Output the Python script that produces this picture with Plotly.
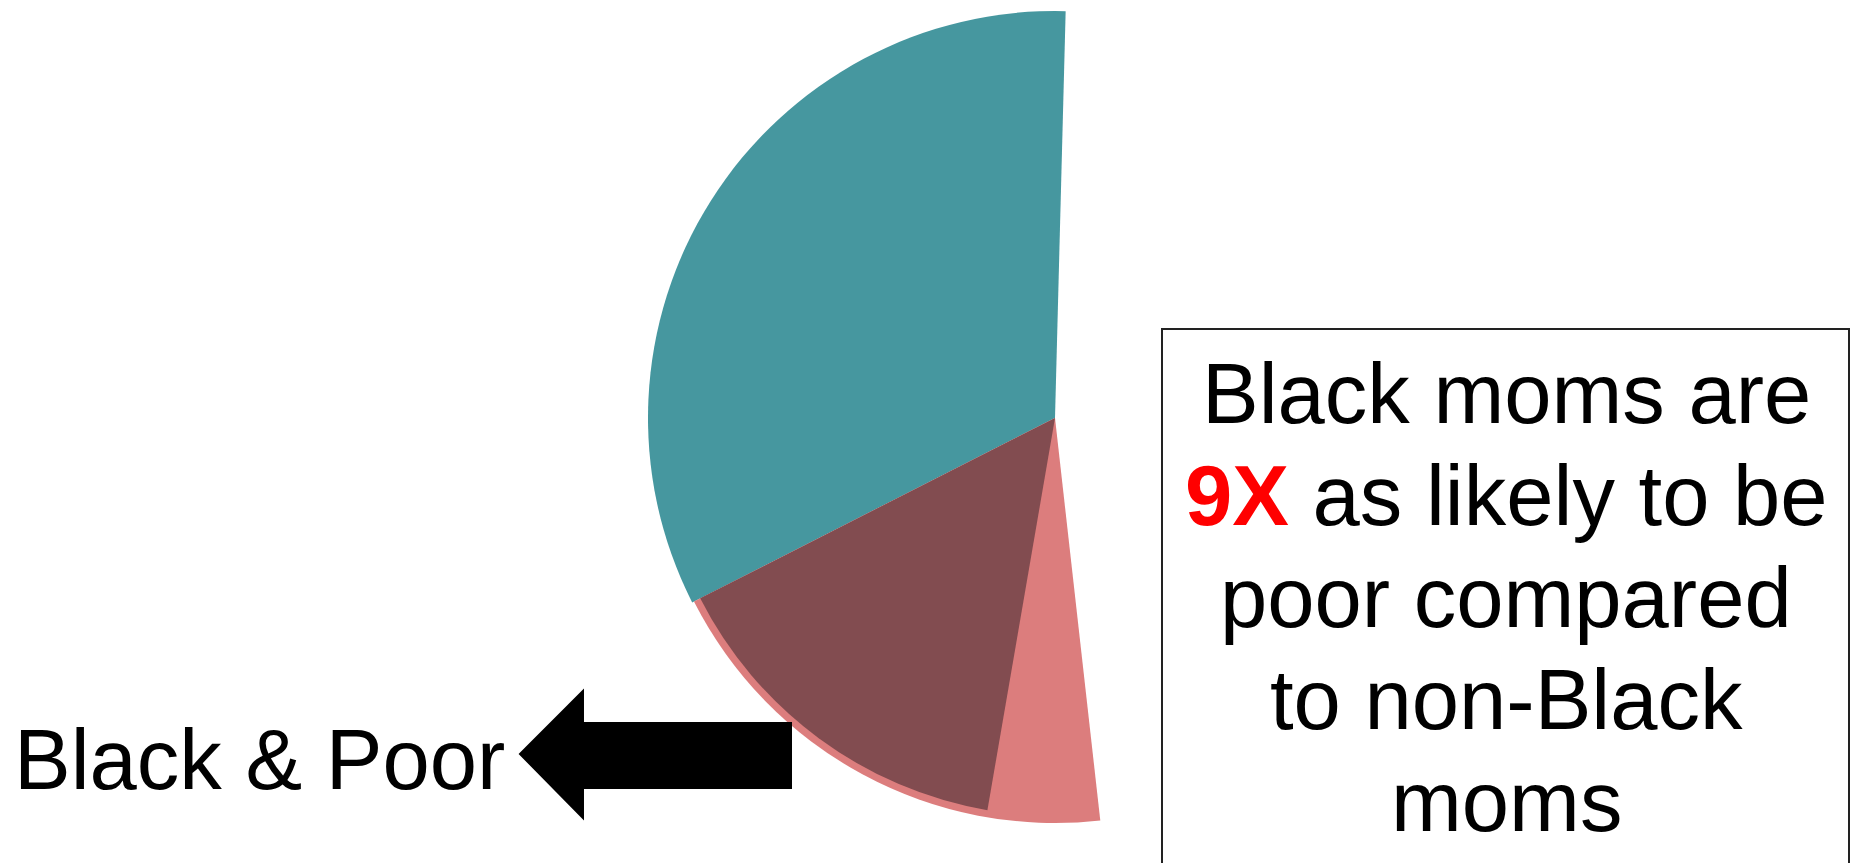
import plotly.graph_objects as go

# ---- data (percent of the full circle) ----
segment_names = ["Black, not poor", "Poor", "Black & Poor"]
segment_values = [32.9, 19.3, 14.8]   # teal, pink (all poor), brown (Black & poor)
start_angle = 1.5                      # degrees clockwise from 12 o'clock where teal begins (sweeps counterclockwise)

box_lines = [
    "Black moms are",
    "<span style='color:#FF0000'><b>9X</b></span> as likely to be",
    "poor compared",
    "to non-Black",
    "moms",
]
arrow_label = "Black & Poor"

# ---- styling ----
W, H = 1852, 863
colors = ["#46979F", "#DC7D7D", "#824C50"]
radii = [407, 405, 398]
cx, cy = 1055, 418
FONT = "Arial, 'Liberation Sans', sans-serif"

def px_x(x):
    return x / W

def px_y(y):
    return 1 - y / H

fig = go.Figure()

# each slice sweeps counterclockwise; with plotly's clockwise mode, rotation = clockwise-most edge
teal_end = start_angle - segment_values[0] * 3.6
rotations = [teal_end,
             teal_end - segment_values[1] * 3.6,
             teal_end - segment_values[2] * 3.6]

for name, val, col, r, rot in zip(segment_names, segment_values, colors, radii, rotations):
    fig.add_trace(go.Pie(
        labels=[name, "rest"],
        values=[val, 100 - val],
        sort=False,
        direction="clockwise",
        rotation=rot,
        marker=dict(colors=[col, "rgba(0,0,0,0)"], line=dict(width=0)),
        textinfo="none",
        hoverinfo="skip",
        showlegend=False,
        domain=dict(x=[px_x(cx - r), px_x(cx + r)], y=[px_y(cy + r), px_y(cy - r)]),
    ))

# block arrow
arrow_px = [(520, 754), (583, 691), (583, 723), (791, 723),
            (791, 788), (583, 788), (583, 818)]
path = "M " + " L ".join(f"{px_x(x):.5f},{px_y(y):.5f}" for x, y in arrow_px) + " Z"
shapes = [
    dict(type="path", xref="paper", yref="paper", path=path,
         fillcolor="black", line=dict(color="black", width=2)),
    dict(type="rect", xref="paper", yref="paper",
         x0=px_x(1162), x1=px_x(1849), y0=-0.2, y1=px_y(329),
         line=dict(color="#222222", width=2), fillcolor="rgba(0,0,0,0)"),
]

annotations = [
    dict(text=arrow_label, x=px_x(12), y=px_y(759), xref="paper", yref="paper",
         xanchor="left", yanchor="middle", showarrow=False,
         font=dict(family=FONT, size=85, color="black")),
]
baselines = [423, 525, 627, 729, 831]
for line, b in zip(box_lines, baselines):
    annotations.append(dict(text=line, x=px_x(1506), y=px_y(b - 30),
                            xref="paper", yref="paper", xanchor="center",
                            yanchor="middle", showarrow=False,
                            font=dict(family=FONT, size=85, color="black")))

fig.update_layout(
    width=W, height=H,
    margin=dict(l=0, r=0, t=0, b=0),
    paper_bgcolor="white", plot_bgcolor="white",
    shapes=shapes, annotations=annotations,
    showlegend=False,
)

fig.write_html("out.html")
